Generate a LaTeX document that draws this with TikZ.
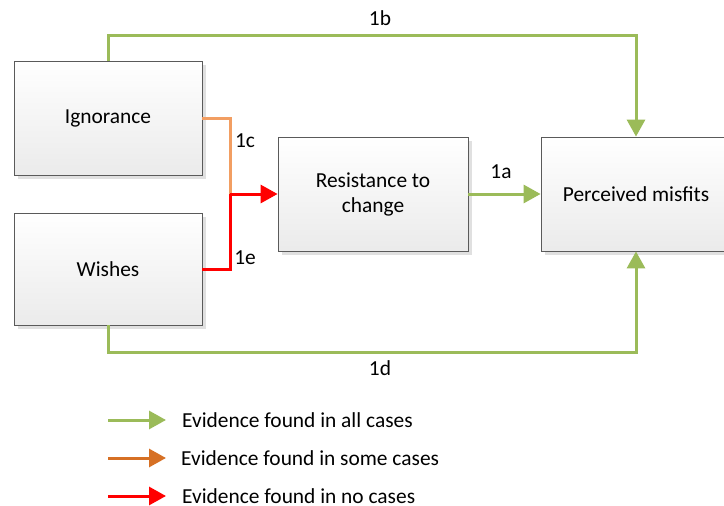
\documentclass[tikz,border=0pt]{standalone}
\usepackage{fontspec}
\setmainfont{Carlito}
\usetikzlibrary{arrows.meta,shadows}
\definecolor{evgreen}{RGB}{155,187,89}
\definecolor{evorange}{RGB}{242,158,98}
\definecolor{evorangedark}{RGB}{214,112,36}
\definecolor{evred}{RGB}{255,0,0}
\definecolor{boxline}{RGB}{90,90,90}
\tikzset{
  factor/.style={rectangle, draw=boxline, line width=0.8pt,
    top color=white, bottom color=black!8,
    drop shadow={shadow xshift=4pt, shadow yshift=-4pt, fill=black!12, opacity=1},
    align=center, font=\fontsize{21.4}{25}\selectfont,
    minimum width=188pt, minimum height=114pt, inner sep=0pt},
  link/.style={line width=3pt},
  tip/.style={-{Triangle[length=17pt,width=18pt]}},
  lbl/.style={font=\fontsize{21.4}{25}\selectfont, inner sep=0pt},
  legendtext/.style={font=\fontsize{21.4}{25}\selectfont, anchor=base west,
    inner sep=0pt, text depth=0pt}
}
\begin{document}
\begin{tikzpicture}[x=1pt,y=-1pt]
  \useasboundingbox (0,0) rectangle (724,506);

  % factor boxes
  \node[factor] (ign) at (108,118) {Ignorance};
  \node[factor, minimum height=112pt] (wish) at (108,269) {Wishes};
  \node[factor, minimum width=190pt] (res) at (373,194) {Resistance to\\change};
  \node[factor, minimum width=190pt] (mis) at (636,194) {Perceived misfits};

  % routing points
  \coordinate (top) at (108,35);
  \coordinate (bot) at (108,352);
  \coordinate (jn) at (230,194);

  % 1b: ignorance to perceived misfits
  \draw[link, evgreen, tip] (ign.north) -- (top) -| (mis.north);
  % 1d: wishes to perceived misfits
  \draw[link, evgreen, tip] (wish.south) -- (bot) -| (mis.south);
  % 1a: resistance to perceived misfits
  \draw[link, evgreen, tip] (res.east) -- (mis.west);
  % 1c: ignorance to resistance
  \draw[link, evorange] (ign.east) -| (jn);
  % 1e: wishes to resistance
  \draw[link, evred] (wish.east) -| (jn);
  \draw[link, evred, tip] (jn) -- (res.west);

  % connector labels
  \node[lbl] (l1b) at (380,18) {1b};
  \node[lbl] (l1a) at (501,172) {1a};
  \node[lbl] (l1c) at (245,141) {1c};
  \node[lbl] (l1e) at (245,258) {1e};
  \node[lbl] (l1d) at (380,368) {1d};

  % legend
  \coordinate (g0) at (108,420); \coordinate (g1) at (166,420);
  \coordinate (o0) at (108,458); \coordinate (o1) at (166,458);
  \coordinate (r0) at (108,496); \coordinate (r1) at (166,496);
  \draw[link, evgreen, tip] (g0) -- (g1);
  \draw[link, evorangedark, tip] (o0) -- (o1);
  \draw[link, evred, tip] (r0) -- (r1);
  \node[legendtext] (tg) at (182,427) {Evidence found in all cases};
  \node[legendtext] (to) at (181,465) {Evidence found in some cases};
  \node[legendtext] (tr) at (182,503) {Evidence found in no cases};
\end{tikzpicture}
\end{document}
